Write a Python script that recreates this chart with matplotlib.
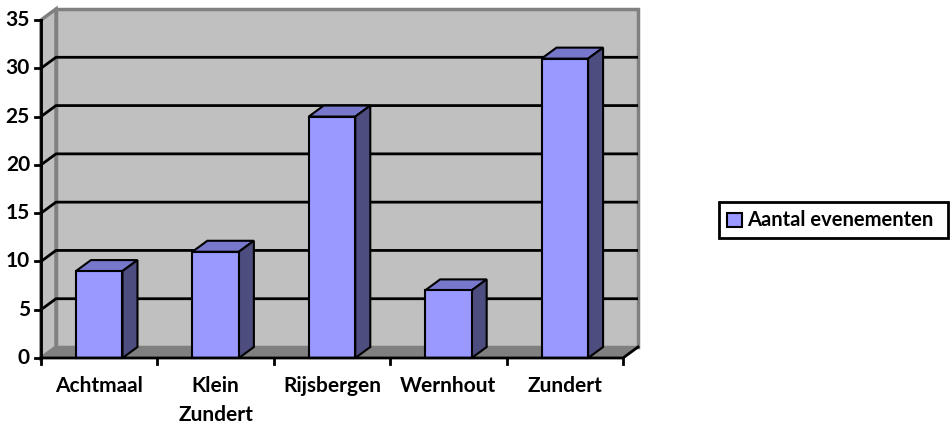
import matplotlib.pyplot as plt
from matplotlib.patches import Polygon

categories = ['Achtmaal', 'Klein\nZundert', 'Rijsbergen', 'Wernhout', 'Zundert']
values = [9, 11, 25, 7, 31]
series_name = 'Aantal evenementen'
y_ticks = [0, 5, 10, 15, 20, 25, 30, 35]

plt.rcParams['font.family'] = ['Lato', 'DejaVu Sans']

W, H = 952, 425
fig = plt.figure(figsize=(W / 100, H / 100), dpi=100)
ax = fig.add_axes([0, 0, 1, 1])
ax.set_axis_off()

# layout (pixels) -> data units
x0_px, cat_px = 41, 116.4
y0_px, unit_px = 358, 9.657
ax.set_xlim((0 - x0_px) / cat_px, (W - x0_px) / cat_px)
ax.set_ylim((y0_px - H) / unit_px, y0_px / unit_px)


def px(x, y):
    return (x - x0_px) / cat_px, (y0_px - y) / unit_px


dx = 15 / cat_px      # depth offset
dy = 11 / unit_px
n = len(categories)
ymax = y_ticks[-1]
bw = 0.2              # half bar width
fs = 15

wall = '#c0c0c0'
floor = '#808080'
edge = '#808080'

# back wall, left wall, floor
ax.add_patch(Polygon([(dx, dy), (n + dx, dy), (n + dx, ymax + dy), (dx, ymax + dy)],
                     closed=True, fc=wall, ec=edge, lw=2.5, zorder=1))
ax.add_patch(Polygon([(0, 0), (dx, dy), (dx, ymax + dy), (0, ymax)],
                     closed=True, fc=wall, ec=edge, lw=2.5, zorder=1))
ax.add_patch(Polygon([(0, 0), (n, 0), (n + dx, dy), (dx, dy)],
                     closed=True, fc=floor, ec='none', zorder=1))

# gridlines
for v in y_ticks[1:-1]:
    ax.plot([0, dx, n + dx], [v, v + dy, v + dy], color='black', lw=2, zorder=2,
            solid_capstyle='butt')

# axes
ax.plot([0, 0], [0, ymax], color='black', lw=2, zorder=5)
ax.plot([0, n, n + dx], [0, 0, dy], color='black', lw=2, zorder=5)
tick = 6 / cat_px
for v in y_ticks:
    ax.plot([-tick, 0], [v, v], color='black', lw=2, zorder=5)
    ax.text(-11 / cat_px, v, str(v), ha='right', va='center', fontsize=fs,
            fontweight='bold')
for i in range(n + 1):
    ax.plot([i, i], [0, -6 / unit_px], color='black', lw=2, zorder=5)

# bars
front_c, top_c, side_c = '#9999ff', '#7777cc', '#4d4d80'
for i, v in enumerate(values):
    c = i + 0.5
    l, r = c - bw, c + bw
    ax.add_patch(Polygon([(l, v), (r, v), (r + dx, v + dy), (l + dx, v + dy)],
                         closed=True, fc=top_c, ec='black', lw=1.5, zorder=4))
    ax.add_patch(Polygon([(r, 0), (r + dx, dy), (r + dx, v + dy), (r, v)],
                         closed=True, fc=side_c, ec='black', lw=1.5, zorder=4))
    ax.add_patch(Polygon([(l, 0), (r, 0), (r, v), (l, v)],
                         closed=True, fc=front_c, ec='black', lw=1.5, zorder=4))
    for k, line in enumerate(categories[i].split('\n')):
        ax.text(c, -(28 + 29 * k) / unit_px, line, ha='center', va='center',
                fontsize=fs, fontweight='bold')

# legend
lx0, ly0 = px(719, 238)
lx1, ly1 = px(948, 202)
ax.add_patch(Polygon([(lx0, ly0), (lx1, ly0), (lx1, ly1), (lx0, ly1)],
                     closed=True, fc='white', ec='black', lw=2, zorder=5))
sx0, sy0 = px(727, 227)
sx1, sy1 = px(742, 213)
ax.add_patch(Polygon([(sx0, sy0), (sx1, sy0), (sx1, sy1), (sx0, sy1)],
                     closed=True, fc=front_c, ec='black', lw=1.5, zorder=6))
tx, ty = px(747, 220)
ax.text(tx, ty, series_name, ha='left', va='center',
        fontsize=14.5, fontweight='bold', zorder=6)

fig.savefig('out.png', dpi=100)
